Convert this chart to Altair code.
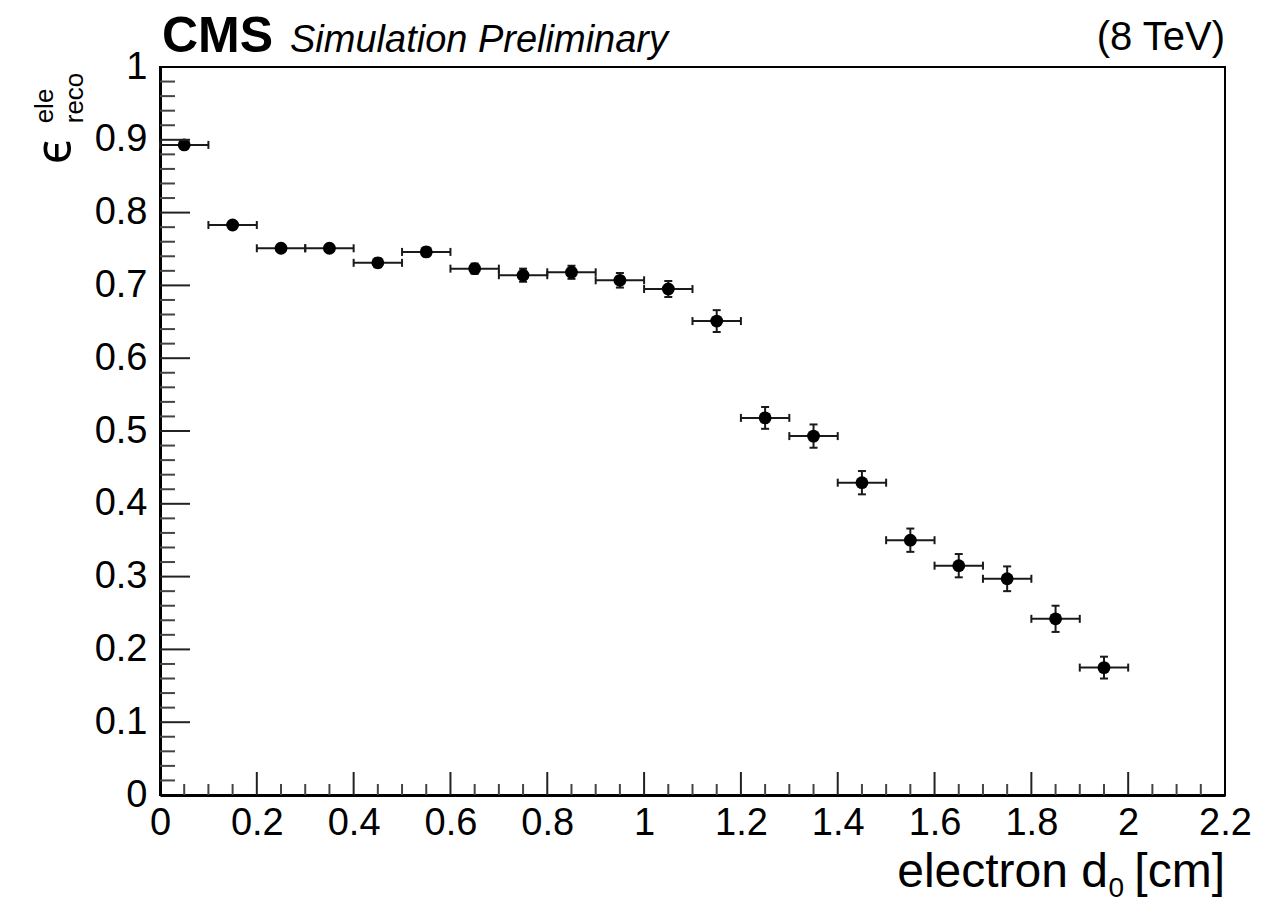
import altair as alt
import pandas as pd

# ---- data ----
d0 = [0.05, 0.15, 0.25, 0.35, 0.45, 0.55, 0.65, 0.75, 0.85, 0.95,
      1.05, 1.15, 1.25, 1.35, 1.45, 1.55, 1.65, 1.75, 1.85, 1.95]
eff = [0.893, 0.783, 0.751, 0.751, 0.731, 0.746, 0.723, 0.714, 0.718, 0.707,
       0.695, 0.651, 0.518, 0.493, 0.429, 0.350, 0.315, 0.297, 0.242, 0.175]
eff_err = [0.003, 0.004, 0.005, 0.005, 0.006, 0.006, 0.007, 0.009, 0.009, 0.010,
           0.011, 0.015, 0.015, 0.016, 0.016, 0.016, 0.016, 0.017, 0.018, 0.015]
bin_half = [0.05] * 20

x_label_values = [0, 0.2, 0.4, 0.6, 0.8, 1, 1.2, 1.4, 1.6, 1.8, 2, 2.2]
y_label_values = [0, 0.1, 0.2, 0.3, 0.4, 0.5, 0.6, 0.7, 0.8, 0.9, 1]
y_major_ticks = [0.1, 0.2, 0.3, 0.4, 0.5, 0.6, 0.7, 0.8, 0.9]
y_minor_ticks = [round(i * 0.02, 2) for i in range(1, 50) if i % 5 != 0]
x_major_ticks = [0.2, 0.4, 0.6, 0.8, 1.0, 1.2, 1.4, 1.6, 1.8, 2.0]
x_minor_ticks = [round(i * 0.05, 2) for i in range(1, 44) if i % 4 != 0]

W, H = 1065, 728
FONT = "Liberation Sans"

df = pd.DataFrame({"d0": d0, "eff": eff, "err": eff_err, "half": bin_half})

xs = alt.Scale(domain=[0, 2.2], nice=False, zero=False)
ys = alt.Scale(domain=[0, 1], nice=False, zero=False)

base = alt.Chart(df).transform_calculate(
    xlo="datum.d0 - datum.half",
    xhi="datum.d0 + datum.half",
    ylo="datum.eff - datum.err",
    yhi="datum.eff + datum.err",
)

x_axis = alt.Axis(
    values=x_label_values, format="~g", labelFont=FONT, labelFontSize=38,
    labelColor="black", labelPadding=9, ticks=False, domainColor="black",
    domainWidth=3, grid=False, labelFlush=False, labelOverlap=False,
    labelBound=False, title=None,
)
y_axis = alt.Axis(
    values=y_label_values, format="~g", labelFont=FONT, labelFontSize=38,
    labelColor="black", labelPadding=13, ticks=False, domainColor="black",
    domainWidth=3, grid=False, labelFlush=False, labelOverlap=False,
    labelBound=False, title=None,
)


def X(f):
    return alt.X(f, scale=xs, axis=x_axis, title=None)


def Y(f):
    return alt.Y(f, scale=ys, axis=y_axis, title=None)


EB = "#1a1a1a"
hbar = base.mark_rule(color=EB, strokeWidth=2).encode(x=X("xlo:Q"), x2="xhi:Q", y=Y("eff:Q"))
vbar = base.mark_rule(color=EB, strokeWidth=2).encode(x=X("d0:Q"), y=Y("ylo:Q"), y2="yhi:Q")
xcap_lo = base.mark_tick(orient="vertical", size=8, thickness=2, color=EB, opacity=1).encode(
    x=X("xlo:Q"), y=Y("eff:Q"))
xcap_hi = base.mark_tick(orient="vertical", size=8, thickness=2, color=EB, opacity=1).encode(
    x=X("xhi:Q"), y=Y("eff:Q"))
ycap_lo = base.mark_tick(orient="horizontal", size=8, thickness=2, color=EB, opacity=1).encode(
    x=X("d0:Q"), y=Y("ylo:Q"))
ycap_hi = base.mark_tick(orient="horizontal", size=8, thickness=2, color=EB, opacity=1).encode(
    x=X("d0:Q"), y=Y("yhi:Q"))
points = base.mark_circle(size=165, color="black", opacity=1).encode(x=X("d0:Q"), y=Y("eff:Q"))

# inward ticks (ROOT style)
ymaj = alt.Chart(pd.DataFrame({"v": y_major_ticks})).mark_rule(color="#222", strokeWidth=2).encode(
    y=Y("v:Q"), x=alt.value(0), x2=alt.value(30))
ymin = alt.Chart(pd.DataFrame({"v": y_minor_ticks})).mark_rule(color="#444", strokeWidth=2).encode(
    y=Y("v:Q"), x=alt.value(0), x2=alt.value(15))
xmaj = alt.Chart(pd.DataFrame({"v": x_major_ticks})).mark_rule(color="#222", strokeWidth=2).encode(
    x=X("v:Q"), y=alt.value(H), y2=alt.value(H - 23))
xmin = alt.Chart(pd.DataFrame({"v": x_minor_ticks})).mark_rule(color="#444", strokeWidth=2).encode(
    x=X("v:Q"), y=alt.value(H), y2=alt.value(H - 11))


def label(text, x, y, size, **kw):
    return alt.Chart(pd.DataFrame({"t": [text]})).mark_text(
        font=kw.pop("font", FONT), fontSize=size, color="black", **kw
    ).encode(text="t:N", x=alt.value(x), y=alt.value(y))


cms = label("CMS", 2, -15, 50, fontWeight="bold", align="left", baseline="alphabetic")
sim = label("Simulation Preliminary", 130, -15, 38, fontStyle="italic", align="left", baseline="alphabetic")
tev = label("(8 TeV)", W, -17, 40, align="right", baseline="alphabetic")
eps = label("ϵ", -89, 85, 50, font="Noto Sans", angle=270, align="center", baseline="alphabetic")
sup = label("ele", -107, 39, 26, angle=270, align="center", baseline="alphabetic")
sub = label("reco", -77, 31, 26, angle=270, align="center", baseline="alphabetic")

# x-axis title: electron d_0 [cm]
xt1 = label("[cm]", W, 820, 48, align="right", baseline="alphabetic")
xt2 = label("0", 964, 830, 28, align="right", baseline="alphabetic")
xt3 = label("electron d", 948, 820, 48, align="right", baseline="alphabetic")

chart = alt.layer(
    hbar, vbar, xcap_lo, xcap_hi, ycap_lo, ycap_hi, points,
    ymaj, ymin, xmaj, xmin, cms, sim, tev, eps, sup, sub, xt1, xt2, xt3,
).properties(
    width=W, height=H,
    autosize=alt.AutoSizeParams(type="none"),
    padding={"left": 160, "top": 67, "right": 36, "bottom": 107},
    background="white",
).configure_view(stroke="black", strokeWidth=2)

chart.save("out.html", embed_options={"renderer": "svg", "actions": False})
